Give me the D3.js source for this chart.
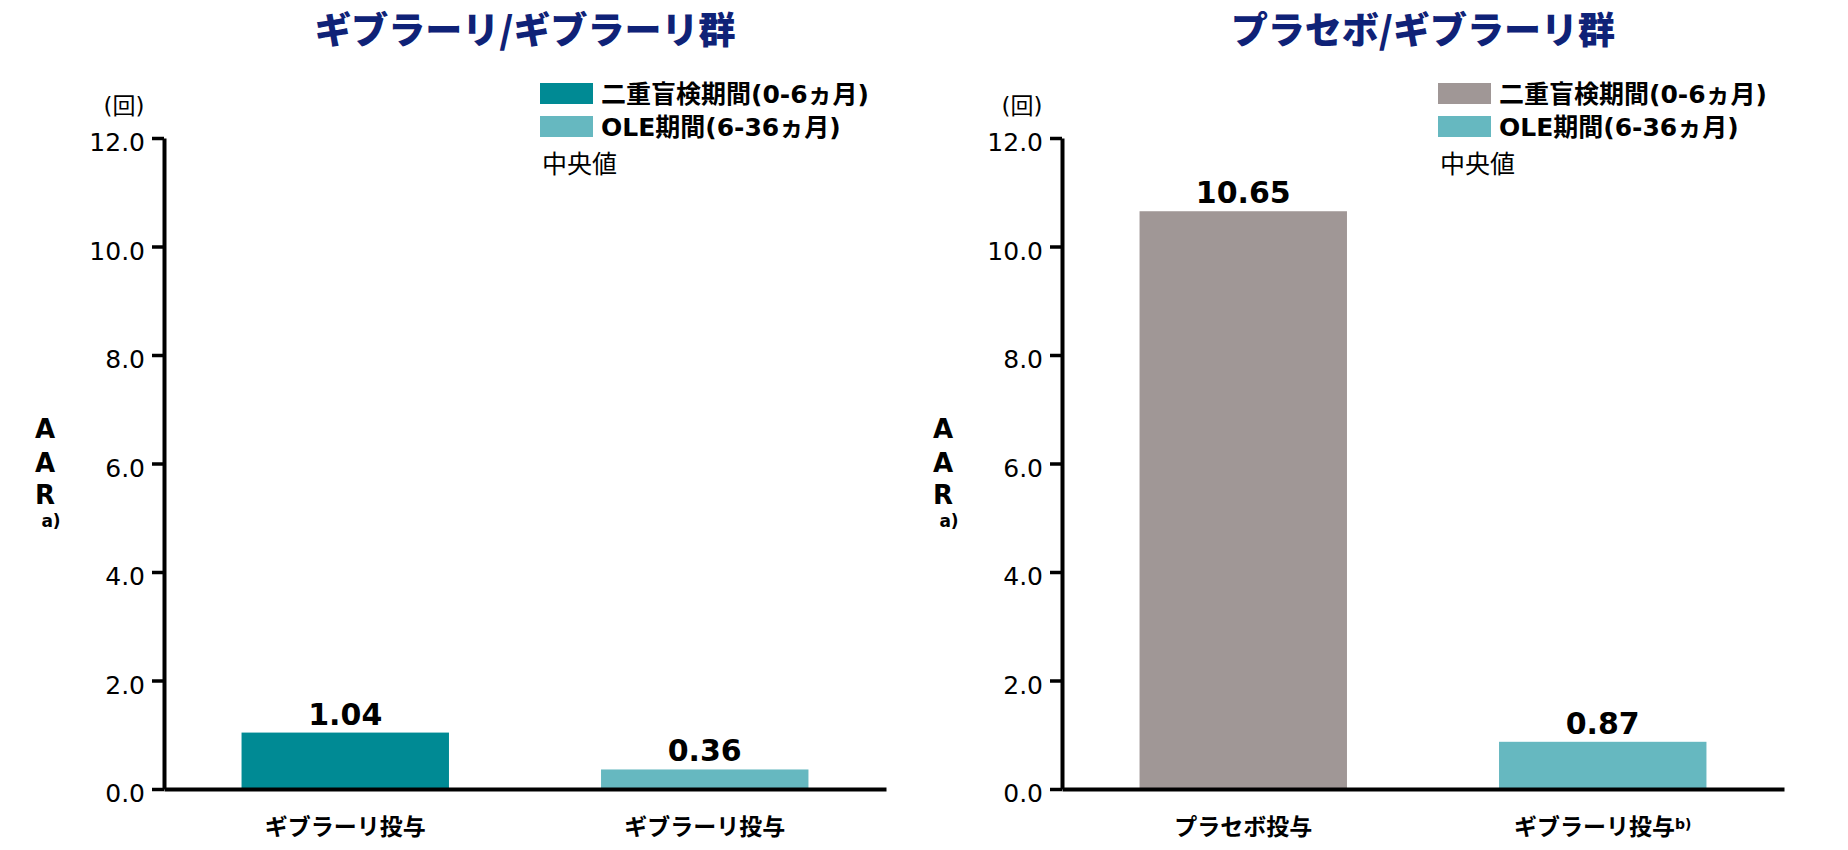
<!DOCTYPE html>
<html>
<head>
<meta charset="utf-8">
<script src="https://cdn.jsdelivr.net/npm/d3@7"></script>
<style>
  html, body { margin: 0; padding: 0; background: #fff; }
  svg { display: block; }
  text { font-family: "DejaVu Sans", "Noto Sans CJK JP", sans-serif; fill: #000; }
</style>
</head>
<body>
<svg id="chart" width="1848" height="850"></svg>
<script>
// data
const panelTitles = ["ギブラーリ/ギブラーリ群", "プラセボ/ギブラーリ群"];
const categories = [["ギブラーリ投与", "ギブラーリ投与"], ["プラセボ投与", "ギブラーリ投与"]];
const footnotes = [["", ""], ["", "b)"]];
const medians = [[1.04, 0.36], [10.65, 0.87]];
const legendLabels = ["二重盲検期間(0-6ヵ月)", "OLE期間(6-36ヵ月)"];
const yTicks = [0, 2, 4, 6, 8, 10, 12];

// colours per panel: [double blind, OLE]
const panelColors = [["#008a94", "#66b8c0"], ["#a09796", "#66b8c0"]];
const titleColor = "#0f2277";

const svg = d3.select("#chart");
const panelX = [164, 1062];
const plotW = 722;
const y0 = 789, yTop = 138;

const y = d3.scaleLinear().domain([0, 12]).range([y0, yTop]);

function drawPanel(i) {
    const g = svg.append("g").attr("transform", `translate(${panelX[i]},0)`);
    const cols = panelColors[i];
    const cats = categories[i].map((c, k) => k);

    const x = d3.scaleBand().domain(cats).range([0, plotW])
        .paddingInner(0.423).paddingOuter(0.2157);

    // title
    g.append("text")
        .attr("x", plotW / 2).attr("y", 44)
        .attr("text-anchor", "middle")
        .style("font-family", "'Noto Sans CJK JP', sans-serif")
        .style("font-weight", 900).style("font-size", "37px")
        .style("fill", titleColor)
        .text(panelTitles[i]);

    // unit
    g.append("text")
        .attr("x", -40).attr("y", 114)
        .attr("text-anchor", "middle")
        .style("font-size", "23px")
        .text("(回)");

    // y axis label, stacked letters in one text
    const lab = g.append("text")
        .attr("transform", "translate(-119,0)")
        .attr("text-anchor", "middle")
        .style("font-weight", "bold");
    [["A", 438], ["A", 472], ["R", 504]].forEach(([t, yy]) => {
        lab.append("tspan").attr("x", 0).attr("y", yy)
            .style("font-size", "26px").text(t);
    });
    lab.append("tspan").attr("x", 6).attr("y", 527)
        .style("font-size", "17px").text("a)");

    // bars
    g.selectAll("rect.bar")
        .data(medians[i])
        .enter().append("rect")
        .attr("class", "bar")
        .attr("x", (d, k) => x(k))
        .attr("width", x.bandwidth())
        .attr("y", d => y(d))
        .attr("height", d => y0 - y(d))
        .attr("fill", (d, k) => cols[k]);

    // value labels
    g.selectAll("text.val")
        .data(medians[i])
        .enter().append("text")
        .attr("class", "val")
        .attr("x", (d, k) => x(k) + x.bandwidth() / 2)
        .attr("y", d => y(d) - 8)
        .attr("text-anchor", "middle")
        .style("font-weight", "bold").style("font-size", "30px")
        .text(d => d.toFixed(2));

    // y axis
    const yAxis = g.append("g")
        .call(d3.axisLeft(y).tickValues(yTicks).tickFormat(d3.format(".1f"))
            .tickSize(12).tickPadding(7).tickSizeOuter(0));
    yAxis.select(".domain").attr("stroke-width", 4);
    yAxis.selectAll(".tick line").attr("stroke-width", 3.5);
    yAxis.selectAll(".tick text")
        .attr("dy", "0.5em")
        .style("font-size", "25px")
        .style("font-family", "'DejaVu Sans', sans-serif");

    // x axis
    const xAxis = g.append("g").attr("transform", `translate(0,${y0})`)
        .call(d3.axisBottom(x).tickSize(0).tickSizeOuter(0).tickPadding(30)
            .tickFormat(k => categories[i][k]));
    xAxis.select(".domain").attr("stroke-width", 4);
    xAxis.selectAll(".tick text")
        .attr("dy", "0.71em")
        .style("font-family", "'Noto Sans CJK JP', sans-serif")
        .style("font-weight", "bold").style("font-size", "23px")
        .each(function (k) {
            const fn = footnotes[i][k];
            if (fn) {
                d3.select(this).append("tspan")
                    .attr("dy", "-0.45em")
                    .style("font-size", "14px")
                    .style("font-family", "'DejaVu Sans', sans-serif")
                    .text(fn);
            }
        });

    // legend
    const leg = g.append("g").attr("transform", "translate(376,0)");
    legendLabels.forEach((t, k) => {
        const top = 83 + k * 33;
        leg.append("rect")
            .attr("x", 0).attr("y", top)
            .attr("width", 53).attr("height", 21)
            .attr("fill", cols[k]);
        leg.append("text")
            .attr("x", 61).attr("y", top + 20)
            .style("font-weight", "bold").style("font-size", "25px")
            .text(t);
    });
    leg.append("text")
        .attr("x", 2).attr("y", 173)
        .style("font-family", "'Noto Sans CJK JP', sans-serif")
        .style("font-size", "25px")
        .text("中央値");
}

drawPanel(0);
drawPanel(1);
</script>
</body>
</html>
